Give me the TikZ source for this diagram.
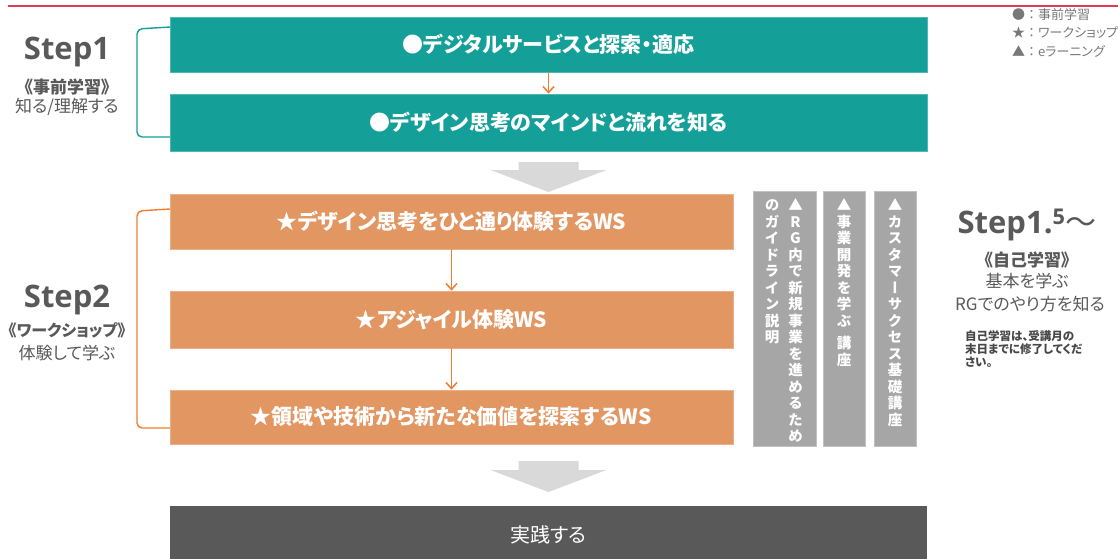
\documentclass[tikz,border=0pt]{standalone}
\usepackage{fontspec}
\setmainfont{Noto Sans CJK JP}[RawFeature={+palt}]
\newfontfamily\jp{Noto Sans CJK JP}[RawFeature={+palt}]
\newfontfamily\jpn{Noto Sans CJK JP}
\newfontfamily\jpv{Noto Sans CJK JP}[RawFeature={+vert}]
\newfontfamily\lat{Open Sans}
\usetikzlibrary{arrows.meta}
\definecolor{tealc}{RGB}{20,160,152}
\definecolor{orangec}{RGB}{226,150,98}
\definecolor{arrowor}{RGB}{240,124,48}
\definecolor{greyv}{RGB}{166,166,166}
\definecolor{darkc}{RGB}{89,89,89}
\definecolor{lgrey}{RGB}{217,217,217}
\definecolor{txtg}{RGB}{89,89,89}
\definecolor{legg}{RGB}{120,120,120}
\definecolor{redl}{RGB}{222,60,85}
\makeatletter
\newcommand\vstk[1]{\vbox{\offinterlineskip\@tfor\vs@c:=#1\do{\hbox to 1.1em{\vrule height 0.92em depth 0.22em width 0pt\hss\vs@c\hss}}}}
\makeatother
\newcommand\lgsep{{\jpn ：}}
\tikzset{
  mainbox/.style={rectangle, inner sep=0pt, text=white, font=\jp\bfseries\fontsize{21}{25}\selectfont},
  tbox/.style={mainbox, fill=tealc, draw=tealc!75!white, line width=0.8pt},
  obox/.style={mainbox, fill=orangec, draw=orangec!75!white, line width=0.8pt},
  dbox/.style={mainbox, fill=darkc, font=\jp\fontsize{20}{24}\selectfont},
  gbox/.style={rectangle, inner sep=0pt, fill=greyv, draw=greyv!70!white, line width=0.6pt},
  vtxt/.style={inner sep=0pt, text=white, font=\jpv\bfseries\fontsize{14.5}{16}\selectfont},
  oarrow/.style={draw=arrowor, line width=1.5pt, -{Straight Barb[length=6pt,width=11pt]}},
  steptitle/.style={inner sep=0pt, text=txtg, font=\lat\bfseries\fontsize{31}{36}\selectfont},
  stepsub/.style={inner sep=0pt, text=txtg, font=\jp\fontsize{17}{20}\selectfont},
  legendtxt/.style={inner sep=0pt, anchor=west, text=legg, font=\jp\fontsize{13}{15}\selectfont}
}
\begin{document}
\begin{tikzpicture}[x=1pt,y=-1pt]
\useasboundingbox (0,0) rectangle (1118,558);
% top red rule
\draw[redl, line width=2pt] (8,5.5) -- (1118,5.5);
% legend
\node[legendtxt] (lg1) at (1012,15) {●\lgsep 事前学習};
\node[legendtxt] (lg2) at (1012,33) {★\lgsep ワークショップ};
\node[legendtxt] (lg3) at (1012,51) {▲\lgsep eラーニング};
% main boxes
\node[tbox, minimum width=757pt, minimum height=55pt] (t1) at (548.5,44.5) {●デジタルサービスと探索・適応};
\node[tbox, minimum width=757pt, minimum height=57pt] (t2) at (548.5,122.5) {●デザイン思考のマインドと流れを知る};
\node[obox, minimum width=563pt, minimum height=55pt] (o1) at (451.5,221.5) {★デザイン思考をひと通り体験するWS};
\node[obox, minimum width=563pt, minimum height=57pt] (o2) at (451.5,319.5) {★アジャイル体験WS};
\node[obox, minimum width=563pt, minimum height=54pt] (o3) at (451.5,417) {★領域や技術から新たな価値を探索するWS};
\node[dbox, minimum width=757pt, minimum height=58pt] (d1) at (548.5,535) {実践する};
% small arrows
\draw[oarrow] (t1) -- (t2);
\draw[oarrow] (o1) -- (o2);
\draw[oarrow] (o2) -- (o3);
% big grey arrows
\fill[lgrey, shift={(548.5,162)}] (-30,0) -- (30,0) -- (30,8) -- (58,8) -- (0,30) -- (-58,8) -- (-30,8) -- cycle;
\fill[lgrey, shift={(548.5,461)}] (-30,0) -- (30,0) -- (30,9) -- (58,9) -- (0,31) -- (-58,9) -- (-30,9) -- cycle;
% brackets
\draw[tealc, line width=1.4pt, rounded corners=5pt] (170,27) -- (137,29) -- (137,137) -- (170,137);
\draw[arrowor, line width=1.4pt, rounded corners=5pt] (170,209) -- (137,211) -- (137,428) -- (170,428);
% step labels
\node[steptitle] (s1) at (67,52) {Step1};
\node[stepsub, font=\jp\bfseries\fontsize{17}{20}\selectfont] (s1a) at (67,87) {《事前学習》};
\node[stepsub] (s1b) at (67,107) {知る/理解する};
\node[steptitle] (s2) at (67,300) {Step2};
\node[stepsub, font=\jp\bfseries\fontsize{16}{20}\selectfont] (s2a) at (67,330) {《ワークショップ》};
\node[stepsub] (s2b) at (67,353) {体験して学ぶ};
% e-learning boxes
\node[gbox, minimum width=63pt, minimum height=255pt] (g1) at (784.5,318.5) {};
\node[gbox, minimum width=42pt, minimum height=255pt] (g2) at (844,318.5) {};
\node[gbox, minimum width=42pt, minimum height=255pt] (g3) at (895,318.5) {};
\node[vtxt, anchor=north] (g1a) at (795.5,197) {\vstk{▲RG内で新規事業を進めるため}};
\node[vtxt, anchor=north] (g1b) at (772,197) {\vstk{のガイドライン説明}};
\node[vtxt, anchor=north] (g2a) at (844,197) {\vbox{\vstk{▲事業開発を学ぶ}\kern5pt\vstk{講座}}};
\node[vtxt, anchor=north] (g3a) at (895,197) {\vstk{▲カスタマーサクセス基礎講座}};
% step 1.5
\node[steptitle] (s15) at (1027,225) {Step1.\textsuperscript{5}{\jp\mdseries ～}};
\node[stepsub, font=\jp\bfseries\fontsize{17}{20}\selectfont] (s15a) at (1027,260) {《自己学習》};
\node[stepsub] (s15b) at (1027,281) {基本を学ぶ};
\node[stepsub] (s15c) at (1030,304) {RGでのやり方を知る};
\node[inner sep=0pt, anchor=north west, text=darkc!80!black, align=left, font=\jp\bfseries\fontsize{11.5}{13}\selectfont] (note) at (965,330) {自己学習は、受講月の\\末日までに修了してくだ\\さい。};
\end{tikzpicture}
\end{document}
